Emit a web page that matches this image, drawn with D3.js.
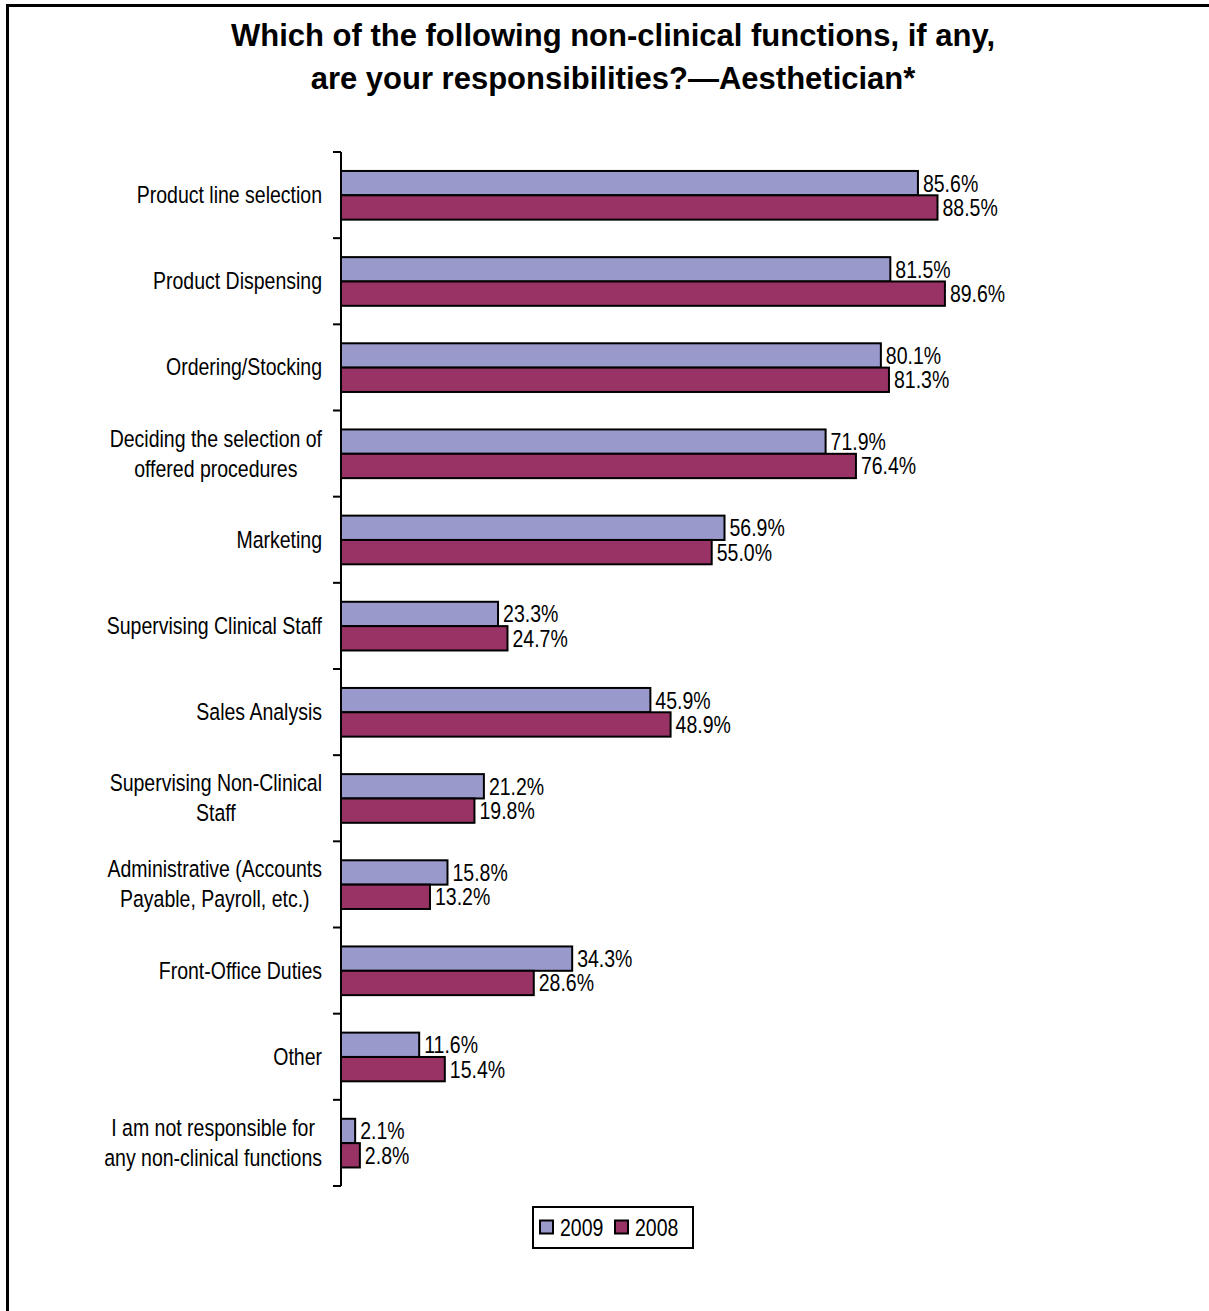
<!DOCTYPE html>
<html>
<head>
<meta charset="utf-8">
<script src="https://cdn.jsdelivr.net/npm/d3@7"></script>
<style>
  body { margin: 0; background: #fff; }
  text { font-family: "Liberation Sans", Arial, sans-serif; }
</style>
</head>
<body>
<div id="chart"></div>
<script>
// categories, top to bottom
const categories = [
    ["Product line selection"],
    ["Product Dispensing"],
    ["Ordering/Stocking"],
    ["Deciding the selection of", "offered procedures"],
    ["Marketing"],
    ["Supervising Clinical Staff"],
    ["Sales Analysis"],
    ["Supervising Non-Clinical", "Staff"],
    ["Administrative (Accounts", "Payable, Payroll, etc.)"],
    ["Front-Office Duties"],
    ["Other"],
    ["I am not responsible for", "any non-clinical functions"]
];
const seriesNames = ["2009", "2008"];
const values2009 = [85.6, 81.5, 80.1, 71.9, 56.9, 23.3, 45.9, 21.2, 15.8, 34.3, 11.6, 2.1];
const values2008 = [88.5, 89.6, 81.3, 76.4, 55.0, 24.7, 48.9, 19.8, 13.2, 28.6, 15.4, 2.8];
const colors = ["#9999cc", "#993366"];

const width = 1209, height = 1311;
const axisX = 341, plotTop = 152, plotBottom = 1186;
const narrow = 0.83;      // horizontal squeeze to mimic Arial Narrow
const fontSize = "23.5px";

let svg = d3.select("#chart")
    .append("svg")
    .attr("width", width)
    .attr("height", height);

// frame (only top and left edges visible)
svg.append("path")
    .attr("d", `M7.5,${height} L7.5,5.5 L${width},5.5`)
    .attr("fill", "none")
    .attr("stroke", "#000")
    .attr("stroke-width", 3);

// title
let title = svg.append("text")
    .attr("text-anchor", "middle")
    .style("font-size", "31px")
    .style("font-weight", "bold");
title.append("tspan").attr("x", 613).attr("y", 46).text("Which of the following non-clinical functions, if any,");
title.append("tspan").attr("x", 613).attr("y", 89).text("are your responsibilities?\u2014Aesthetician*");

let x = d3.scaleLinear()
    .domain([0, 100])
    .range([axisX, axisX + 674]);

let y0 = d3.scaleBand()
    .domain(d3.range(categories.length))
    .range([plotTop, plotBottom])
    .padding(0);

let y1 = d3.scaleBand()
    .domain(seriesNames)
    .range([y0.bandwidth() * 0.22, y0.bandwidth() * 0.785]);

let data = categories.map(function(c, i) {
    return {idx: i, label: c, vals: [
        {s: "2009", v: values2009[i]},
        {s: "2008", v: values2008[i]}
    ]};
});

let groups = svg.append("g").selectAll("g")
    .data(data)
    .enter()
    .append("g")
    .attr("transform", d => `translate(0,${y0(d.idx)})`);

groups.selectAll("rect")
    .data(d => d.vals)
    .enter()
    .append("rect")
    .attr("x", x(0))
    .attr("y", d => y1(d.s))
    .attr("width", d => x(d.v) - x(0))
    .attr("height", y1.bandwidth())
    .attr("fill", (d, i) => colors[i])
    .attr("stroke", "#000")
    .attr("stroke-width", 2);

groups.selectAll("text.val")
    .data(d => d.vals)
    .enter()
    .append("text")
    .attr("class", "val")
    .attr("transform", d => `translate(${x(d.v) + 5},${y1(d.s) + y1.bandwidth() / 2 + 8.5}) scale(${narrow},1)`)
    .style("font-size", fontSize)
    .text(d => d.v.toFixed(1) + "%");

// axis line and tick marks at category boundaries
let boundaries = d3.range(categories.length + 1).map(i => plotTop + i * y0.step());
svg.append("line")
    .attr("x1", axisX).attr("x2", axisX)
    .attr("y1", plotTop).attr("y2", plotBottom)
    .attr("stroke", "#000").attr("stroke-width", 2);
svg.append("g").selectAll("line")
    .data(boundaries)
    .enter()
    .append("line")
    .attr("x1", axisX - 8).attr("x2", axisX)
    .attr("y1", d => d).attr("y2", d => d)
    .attr("stroke", "#000").attr("stroke-width", 2);

// category labels, lines centred within a right-aligned block
let labelRight = 322, lineH = 30;
data.forEach(function(d) {
    let cy = y0(d.idx) + y0.bandwidth() / 2;
    let g = svg.append("g")
        .attr("transform", `translate(${labelRight},${cy}) scale(${narrow},1)`);
    let n = d.label.length;
    let texts = d.label.map(function(line, j) {
        return g.append("text")
            .attr("y", (j - (n - 1) / 2) * lineH + 8)
            .attr("text-anchor", "middle")
            .style("font-size", fontSize)
            .text(line);
    });
    let maxW = d3.max(texts, t => t.node().getComputedTextLength());
    texts.forEach(t => t.attr("x", -maxW / 2));
});

// legend
let legend = svg.append("g").attr("transform", "translate(533,1207)");
legend.append("rect")
    .attr("width", 160).attr("height", 41)
    .attr("fill", "#fff").attr("stroke", "#000").attr("stroke-width", 2);
seriesNames.forEach(function(s, i) {
    let lx = 7 + i * 75;
    legend.append("rect")
        .attr("x", lx).attr("y", 13.5)
        .attr("width", 13).attr("height", 13)
        .attr("fill", colors[i]).attr("stroke", "#000").attr("stroke-width", 2);
    legend.append("text")
        .attr("transform", `translate(${lx + 20},28.5) scale(${narrow},1)`)
        .style("font-size", fontSize)
        .text(s);
});
</script>
</body>
</html>
